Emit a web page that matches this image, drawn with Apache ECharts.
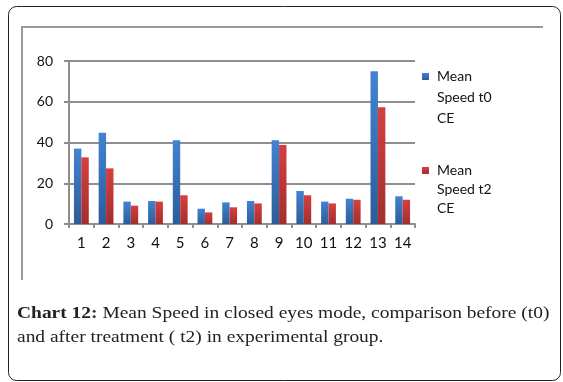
<!DOCTYPE html>
<html><head><meta charset="utf-8">
<script src="https://cdn.jsdelivr.net/npm/echarts@6/dist/echarts.min.js"></script>
<style>html,body{margin:0;padding:0;background:#fff}#c{width:563px;height:382px}</style>
</head><body><div id="c"></div>
<script>
var categories = ['1','2','3','4','5','6','7','8','9','10','11','12','13','14'];
var seriesT0Name = 'Mean Speed t0 CE';
var seriesT2Name = 'Mean Speed t2 CE';
var speedT0 = [37.0, 44.8, 11.0, 11.3, 41.1, 7.5, 10.6, 11.3, 41.1, 16.2, 11.0, 12.4, 75.0, 13.6];
var speedT2 = [32.7, 27.3, 9.0, 11.0, 14.1, 5.7, 8.2, 10.1, 38.8, 14.1, 10.1, 11.9, 57.3, 11.9];
var yTicks = [0, 20, 40, 60, 80];
var captionBold = 'Chart 12:';
var captionLine1 = ' Mean Speed in closed eyes mode, comparison before (t0)';
var captionLine2 = 'and after treatment ( t2) in experimental group.';

var chart = echarts.init(document.getElementById('c'), null, {renderer: 'canvas'});
var LG = echarts.graphic.LinearGradient;
var lblFont = 'Lato, "Open Sans", sans-serif';
var gridColor = '#8e8e8e';
var option = {
  animation: false,
  backgroundColor: '#fff',
  grid: {left: 69, right: 148, top: 61, bottom: 158, containLabel: false},
  xAxis: {
    type: 'category', data: categories, boundaryGap: true,
    axisLine: {show: true, lineStyle: {color: gridColor, width: 2}},
    axisTick: {show: true, length: 4, lineStyle: {color: gridColor, width: 2}},
    axisLabel: {color: '#111', fontSize: 15, fontFamily: lblFont, margin: 12, interval: 0},
    splitLine: {show: false}
  },
  yAxis: {
    type: 'value', min: yTicks[0], max: yTicks[yTicks.length - 1], interval: yTicks[1] - yTicks[0],
    axisLine: {show: true, lineStyle: {color: gridColor, width: 2}},
    axisTick: {show: true, length: 5, lineStyle: {color: gridColor, width: 2}},
    axisLabel: {color: '#111', fontSize: 14, fontFamily: lblFont, margin: 16},
    splitLine: {show: true, lineStyle: {color: gridColor, width: 2}}
  },
  legend: [
    {data: [seriesT0Name], orient: 'vertical', left: 422, top: 24, itemWidth: 7, itemHeight: 7,
     icon: 'rect', selectedMode: false, padding: 0,
     formatter: function () { return '\n\nMean\nSpeed t0\nCE'; },
     textStyle: {fontSize: 14, fontFamily: lblFont, color: '#111', lineHeight: 21, padding: [0, 0, 0, 3]}},
    {data: [seriesT2Name], orient: 'vertical', left: 422, top: 123, itemWidth: 7, itemHeight: 7,
     icon: 'rect', selectedMode: false, padding: 0,
     formatter: function () { return '\n\nMean\nSpeed t2\nCE'; },
     textStyle: {fontSize: 14, fontFamily: lblFont, color: '#111', lineHeight: 19, padding: [0, 0, 0, 3]}}
  ],
  series: [
    {name: seriesT0Name, type: 'bar', data: speedT0, barWidth: '30%', barGap: '0%',
     itemStyle: {color: new LG(0, 0, 0, 1, [{offset: 0, color: '#4283d2'}, {offset: 1, color: '#2d5c98'}])}},
    {name: seriesT2Name, type: 'bar', data: speedT2, barWidth: '30%', barGap: '0%',
     itemStyle: {color: new LG(0, 0, 0, 1, [{offset: 0, color: '#d63f3f'}, {offset: 1, color: '#a32e2e'}])}}
  ],
  graphic: [
    {type: 'rect', left: 6, top: 4, shape: {width: 552, height: 374, r: 8},
     style: {fill: 'none', stroke: '#222', lineWidth: 1}, z: 100},
    {type: 'polyline', shape: {points: [[22, 280], [22, 27], [543, 27]]},
     style: {fill: 'none', stroke: '#9a9a9a', lineWidth: 2}, z: 100},
    {type: 'text', x: 17, y: 302, scaleX: 1.145, z: 100,
     style: {text: '{b|' + captionBold + '}' + captionLine1 + '\n' + captionLine2,
       font: '17px "Liberation Serif", serif', fill: '#222', lineHeight: 24,
       align: 'left', verticalAlign: 'top',
       rich: {b: {fontWeight: 'bold', fontSize: 17, fontFamily: '"Liberation Serif", serif', fill: '#222'}}}}
  ]
};
chart.setOption(option);
</script></body></html>
